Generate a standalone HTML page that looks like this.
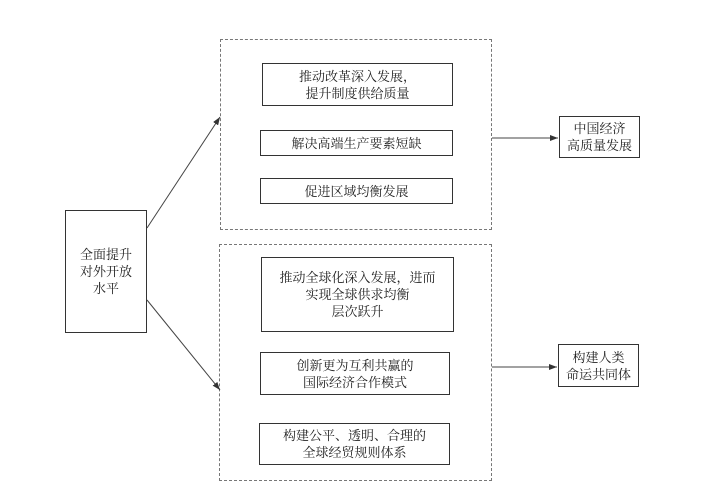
<!DOCTYPE html>
<html><head><meta charset="utf-8"><style>
body{margin:0;background:#fff;width:709px;height:489px;position:relative;overflow:hidden;font-family:"Liberation Serif","Noto Serif CJK SC",serif;font-size:13px;color:#222}
.b{position:absolute;border:1.5px solid #333;box-sizing:border-box;display:flex;align-items:center;justify-content:center;text-align:center;line-height:17px}
.d{position:absolute;border:1.2px dashed #777;box-sizing:border-box}
</style></head><body>
<div class="d" style="left:220px;top:39px;width:272px;height:191px"></div>
<div class="d" style="left:219px;top:244px;width:273px;height:237px"></div>
<div class="b" style="left:65px;top:210px;width:82px;height:123px">全面提升<br>对外开放<br>水平</div>
<div class="b" style="left:262px;top:63px;width:191px;height:43px">推动改革深入发展，<br>提升制度供给质量</div>
<div class="b" style="left:260px;top:130px;width:193px;height:26px">解决高端生产要素短缺</div>
<div class="b" style="left:260px;top:178px;width:193px;height:26px">促进区域均衡发展</div>
<div class="b" style="left:261px;top:257px;width:193px;height:75px">推动全球化深入发展，进而<br>实现全球供求均衡<br>层次跃升</div>
<div class="b" style="left:260px;top:352px;width:190px;height:43px">创新更为互利共赢的<br>国际经济合作模式</div>
<div class="b" style="left:259px;top:423px;width:191px;height:42px">构建公平、透明、合理的<br>全球经贸规则体系</div>
<div class="b" style="left:559px;top:116px;width:81px;height:42px">中国经济<br>高质量发展</div>
<div class="b" style="left:558px;top:344px;width:81px;height:43px">构建人类<br>命运共同体</div>
<svg width="709" height="489" style="position:absolute;left:0;top:0">
<defs><marker id="a" markerWidth="8" markerHeight="6" refX="8" refY="3" orient="auto" markerUnits="userSpaceOnUse"><path d="M0,0 L8,3 L0,6 Z" fill="#333"/></marker></defs>
<g stroke="#444" stroke-width="1" fill="none">
<line x1="147" y1="228" x2="220" y2="117" marker-end="url(#a)"/>
<line x1="147" y1="300" x2="220" y2="390" marker-end="url(#a)"/>
<line x1="492" y1="138" x2="558" y2="138" marker-end="url(#a)"/>
<line x1="492" y1="367" x2="557" y2="367" marker-end="url(#a)"/>
</g></svg>
</body></html>
